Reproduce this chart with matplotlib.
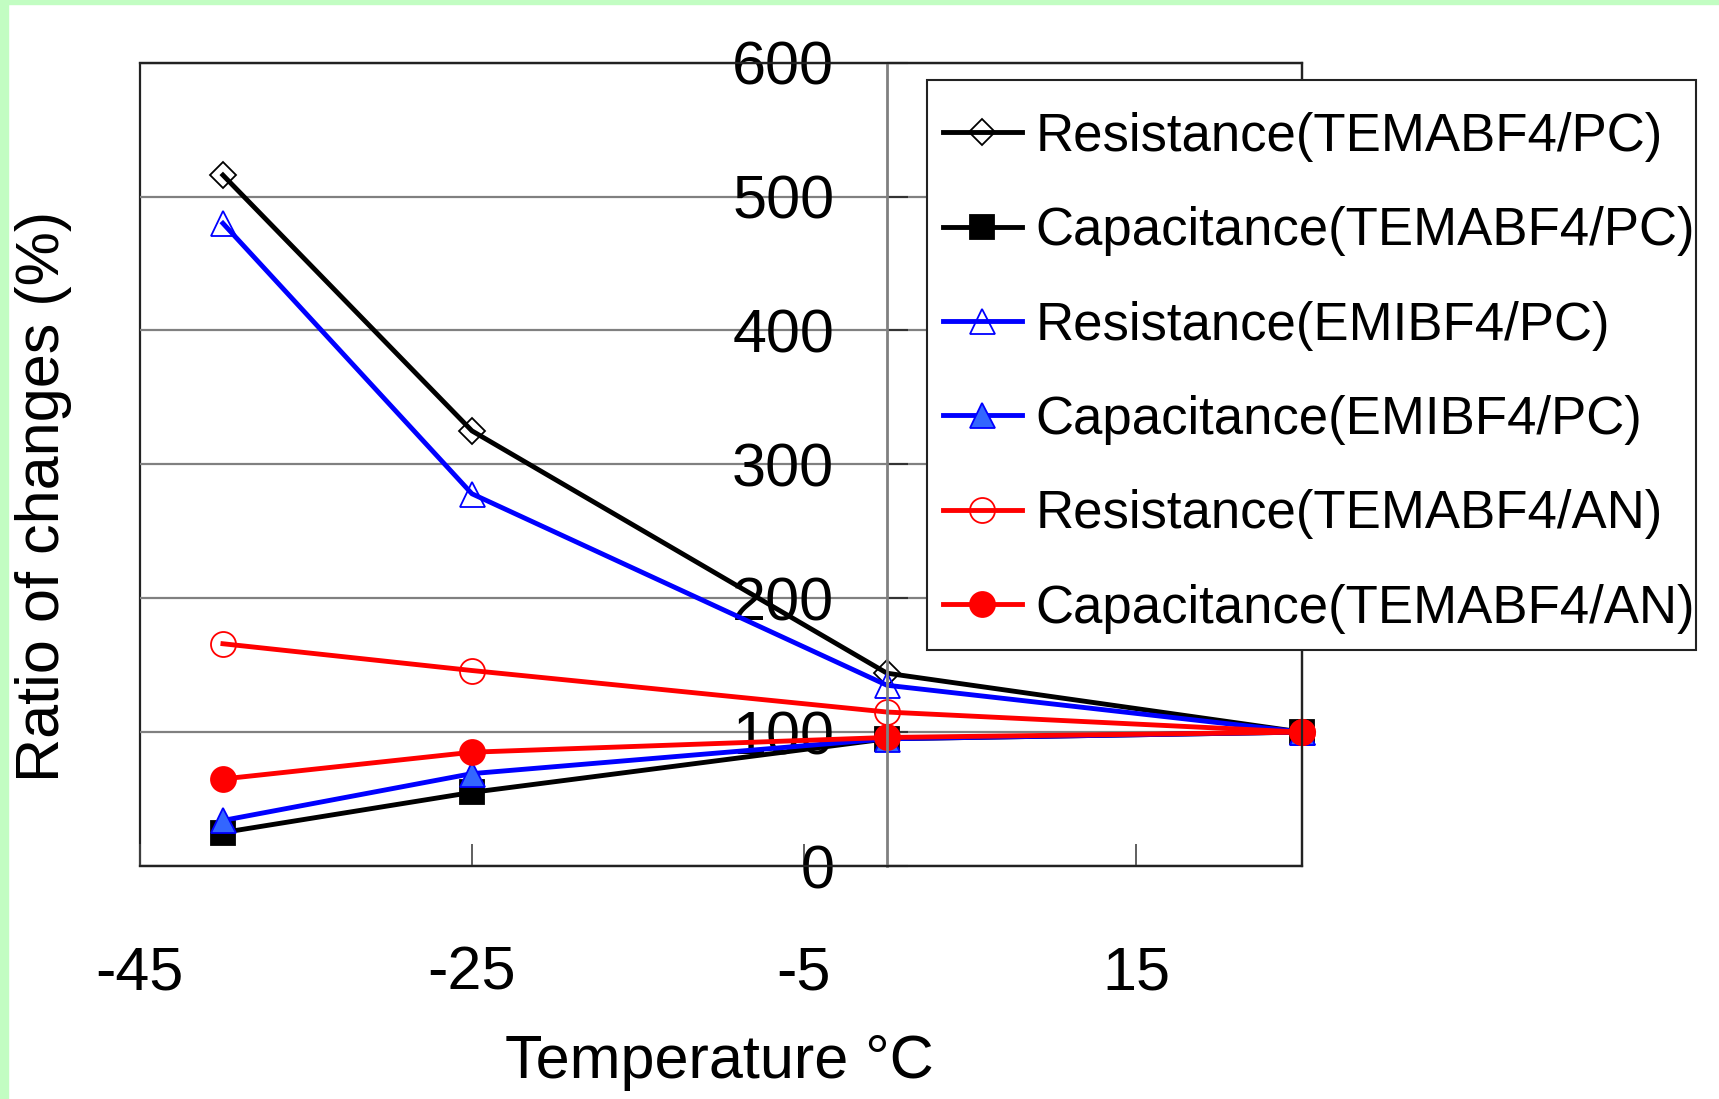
import matplotlib

matplotlib.use("Agg")
import matplotlib.pyplot as plt
from matplotlib.patches import Rectangle

plt.rcParams["font.family"] = ["Liberation Sans", "DejaVu Sans"]
plt.rcParams["axes.unicode_minus"] = False

# temperature (deg C) and ratio of changes (%)
temperature = [-40, -25, 0, 25]
res_tema_pc = [516, 325, 144, 100]
cap_tema_pc = [25, 55, 95, 100]
res_emi_pc = [480, 278, 135, 100]
cap_emi_pc = [34, 69, 95, 100]
res_tema_an = [166, 146, 115, 100]
cap_tema_an = [65, 85, 96, 100]

x_ticks = [-45, -25, -5, 15]
y_ticks = [0, 100, 200, 300, 400, 500, 600]

series = [
    ("Resistance(TEMABF4/PC)", res_tema_pc, "#000000", "D", "none", "#000000", 13.5),
    ("Capacitance(TEMABF4/PC)", cap_tema_pc, "#000000", "s", "#000000", "#000000", 17),
    ("Resistance(EMIBF4/PC)", res_emi_pc, "#0000ff", "^", "none", "#0000ff", 18),
    ("Capacitance(EMIBF4/PC)", cap_emi_pc, "#0000ff", "^", "#3366ff", "#0000ff", 18),
    ("Resistance(TEMABF4/AN)", res_tema_an, "#ff0000", "o", "none", "#ff0000", 18),
    ("Capacitance(TEMABF4/AN)", cap_tema_an, "#ff0000", "o", "#ff0000", "#ff0000", 18),
]

fig = plt.figure(figsize=(17.19, 10.99), dpi=100)
ax = fig.add_axes([0.0814, 0.212, 0.676, 0.731])

# light green frame strips on the left and top edges
fig.patches.append(Rectangle((0, 0), 8 / 1719, 1, transform=fig.transFigure,
                             color="#c2fdc2", zorder=0))
fig.patches.append(Rectangle((0, 1 - 4 / 1099), 1, 4 / 1099, transform=fig.transFigure,
                             color="#c2fdc2", zorder=0))

for label, values, color, marker, face, edge, ms in series:
    ax.plot(temperature, values, color=color, lw=3.5, marker=marker, ms=ms,
            mfc=face, mec=edge, mew=1.3, label=label, clip_on=False)

ax.set_xlim(-45, 25)
ax.set_ylim(0, 600)
ax.set_xticks(x_ticks)
ax.set_yticks(y_ticks)

# y axis crosses at 0 degC, plot area keeps a full frame
ax.spines["left"].set_position(("data", 0))
ax.spines["left"].set_color("#808080")
ax.spines["left"].set_linewidth(2)
for side in ["top", "right", "bottom"]:
    ax.spines[side].set_color("#222222")
    ax.spines[side].set_linewidth(1.6)
ax.patch.set_edgecolor("#222222")
ax.patch.set_linewidth(1.6)

ax.grid(axis="y", color="#808080", lw=1.6)
ax.set_axisbelow(True)

ax.tick_params(axis="x", direction="in", length=16, width=1.2, color="#444444",
               pad=57, labelsize=44)
ax.tick_params(axis="y", direction="in", length=15, width=1.5, color="#333333",
               pad=38, labelsize=44)

ax.set_xlabel("Temperature °C", fontsize=44, va="center")
ax.xaxis.set_label_coords(0.499, -0.245)
ax.set_ylabel("Ratio of changes (%)", fontsize=44, va="center")
ax.yaxis.set_label_coords(-0.0826, 0.4605)

# legend box is taller than its rows need, so draw the frame separately
fig.add_artist(Rectangle((927 / 1719, 1 - 650 / 1099), 769 / 1719, 570 / 1099,
                         transform=fig.transFigure, facecolor="white",
                         edgecolor="#222222", lw=1.5, zorder=4))
fig.legend(loc="upper left", bbox_to_anchor=(0.5393, 0.9126), borderaxespad=0,
           fontsize=38, numpoints=1, handlelength=1.5, handletextpad=0.25,
           labelspacing=0.84, borderpad=0.3, frameon=False)

fig.savefig("out.png", dpi=100)
